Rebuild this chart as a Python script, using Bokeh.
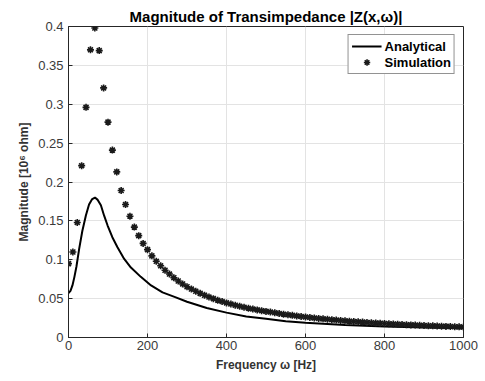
from bokeh.plotting import figure
from bokeh.models import FixedTicker, Range1d, Legend, LegendItem
from bokeh.embed import file_html
from bokeh.resources import INLINE

# ---- data ----
sim_freq = [0.0, 11.1, 22.2, 33.3, 44.4, 55.6, 66.7, 77.8, 88.9, 100.0,
            111.1, 122.2, 133.3, 144.4, 155.6, 166.7, 177.8, 188.9, 200.0, 211.1,
            222.2, 233.3, 244.4, 255.6, 266.7, 277.8, 288.9, 300.0, 311.1, 322.2,
            333.3, 344.4, 355.6, 366.7, 377.8, 388.9, 400.0, 411.1, 422.2, 433.3,
            444.4, 455.6, 466.7, 477.8, 488.9, 500.0, 511.1, 522.2, 533.3, 544.4,
            555.6, 566.7, 577.8, 588.9, 600.0, 611.1, 622.2, 633.3, 644.4, 655.6,
            666.7, 677.8, 688.9, 700.0, 711.1, 722.2, 733.3, 744.4, 755.6, 766.7,
            777.8, 788.9, 800.0, 811.1, 822.2, 833.3, 844.4, 855.6, 866.7, 877.8,
            888.9, 900.0, 911.1, 922.2, 933.3, 944.4, 955.6, 966.7, 977.8, 988.9,
            1000.0]
sim_mag = [0.095, 0.110, 0.148, 0.221, 0.296, 0.370, 0.398, 0.369, 0.321, 0.277,
           0.241, 0.213, 0.189, 0.171, 0.156, 0.142, 0.131, 0.121, 0.113, 0.105,
           0.098, 0.0922, 0.0865, 0.0816, 0.0769, 0.0727, 0.0689, 0.0653, 0.0623, 0.0595,
           0.0568, 0.0543, 0.0520, 0.0500, 0.0480, 0.0462, 0.0445, 0.0430, 0.0415, 0.0402,
           0.0389, 0.0377, 0.0366, 0.0355, 0.0345, 0.0336, 0.0327, 0.0318, 0.0309, 0.0300,
           0.0292, 0.0285, 0.0277, 0.0270, 0.0263, 0.0257, 0.0251, 0.0245, 0.0240, 0.0234,
           0.0229, 0.0224, 0.0219, 0.0214, 0.0210, 0.0206, 0.0202, 0.0198, 0.0194, 0.0190,
           0.0187, 0.0183, 0.0180, 0.0177, 0.0174, 0.0171, 0.0168, 0.0165, 0.0162, 0.0160,
           0.0157, 0.0154, 0.0152, 0.0150, 0.0148, 0.0145, 0.0143, 0.0141, 0.0139, 0.0137,
           0.0135]

ana_freq = [0, 5, 10, 15, 20, 27, 35, 44, 52, 60, 67, 74, 82, 90, 99, 111, 124,
            141, 158, 183, 209, 238, 270, 300, 350, 400, 450, 500, 550, 600, 700,
            800, 900, 1000]
ana_mag = [0.057, 0.060, 0.067, 0.078, 0.091, 0.114, 0.137, 0.157, 0.171, 0.178,
           0.180, 0.177, 0.170, 0.157, 0.144, 0.129, 0.116, 0.101, 0.090, 0.078,
           0.067, 0.058, 0.052, 0.046, 0.038, 0.032, 0.027, 0.024, 0.021, 0.019,
           0.016, 0.014, 0.013, 0.012]

x_ticks = [0, 200, 400, 600, 800, 1000]
y_ticks = [0, 0.05, 0.1, 0.15, 0.2, 0.25, 0.3, 0.35, 0.4]
y_tick_labels = ["0", "0.05", "0.1", "0.15", "0.2", "0.25", "0.3", "0.35", "0.4"]

FONT = "Liberation Sans"
AX = "#262626"

p = figure(width=485, height=381, output_backend="svg", toolbar_location=None,
           x_range=Range1d(0, 1000), y_range=Range1d(0, 0.4),
           min_border_left=68, min_border_right=22, min_border_top=26, min_border_bottom=44)

p.title.text = "Magnitude of Transimpedance |Z(x,\u03c9)|"
p.title.text_font = FONT
p.title.text_font_size = "15px"
p.title.text_font_style = "bold"
p.title.text_color = "#000000"
p.title.align = "center"
p.title.offset = 0
p.title.standoff = 4

ana = p.line(ana_freq, ana_mag, line_color="#000000", line_width=2)
sim = p.scatter(sim_freq, sim_mag, marker="asterisk", size=7, line_color="#1a1a1a", line_width=1.6)

for ax in (p.xaxis[0], p.yaxis[0]):
    ax.axis_line_color = AX
    ax.major_tick_line_color = AX
    ax.major_tick_in = 4
    ax.major_tick_out = 0
    ax.minor_tick_line_color = None
    ax.major_label_text_font = FONT
    ax.major_label_text_font_size = "13px"
    ax.major_label_text_color = "#3a3a3a"
    ax.axis_label_text_font = FONT
    ax.axis_label_text_font_size = "12px"
    ax.axis_label_text_font_style = "bold"
    ax.axis_label_text_color = "#333333"

p.xaxis[0].ticker = FixedTicker(ticks=x_ticks)
p.yaxis[0].ticker = FixedTicker(ticks=y_ticks)
p.yaxis[0].major_label_overrides = {t: l for t, l in zip(y_ticks, y_tick_labels)}
p.xaxis[0].axis_label = "Frequency \u03c9 [Hz]"
p.yaxis[0].axis_label = "Magnitude [10\u2076 ohm]"
p.xaxis[0].major_label_standoff = 3
p.yaxis[0].major_label_standoff = 5
p.xaxis[0].axis_label_standoff = 5
p.yaxis[0].axis_label_standoff = 4

p.xgrid.ticker = FixedTicker(ticks=x_ticks)
p.ygrid.ticker = FixedTicker(ticks=y_ticks)
p.grid.grid_line_color = "#e3e3e3"
p.grid.grid_line_width = 1
p.outline_line_color = AX
p.outline_line_width = 1

legend = Legend(items=[LegendItem(label="Analytical", renderers=[ana]),
                       LegendItem(label="Simulation", renderers=[sim])],
                location="top_right")
legend.margin = 8
legend.padding = 3
legend.spacing = 0
legend.glyph_width = 30
legend.glyph_height = 16
legend.label_height = 16
legend.label_standoff = 3
legend.label_text_font = FONT
legend.label_text_font_size = "13px"
legend.label_text_font_style = "bold"
legend.label_text_color = "#000000"
legend.border_line_color = AX
legend.border_line_width = 1
legend.background_fill_color = "white"
legend.background_fill_alpha = 1
p.add_layout(legend)

open("out.html", "w").write(file_html(p, INLINE))
